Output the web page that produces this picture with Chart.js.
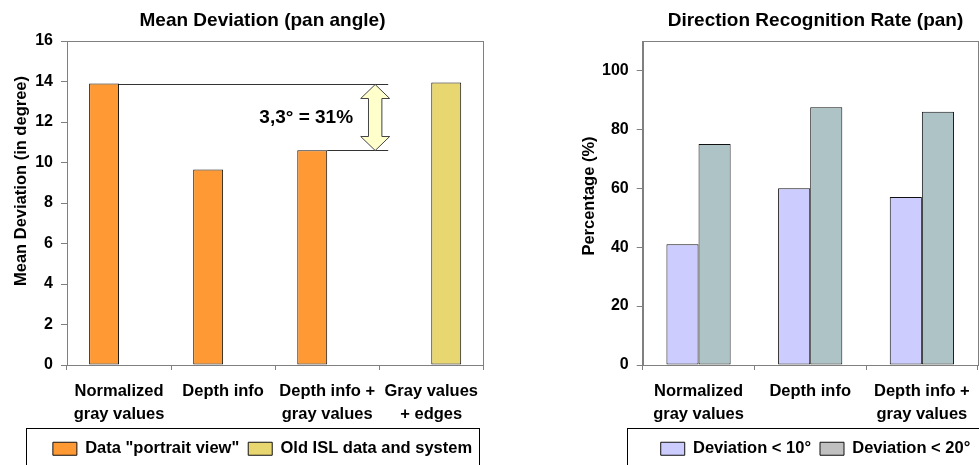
<!DOCTYPE html>
<html>
<head>
<meta charset="utf-8">
<script src="https://cdn.jsdelivr.net/npm/chart.js@4.4.1/dist/chart.umd.min.js"></script>
<style>
  html, body { margin: 0; padding: 0; background: #fff; width: 979px; height: 465px; overflow: hidden; }
  .panel { position: absolute; top: 0; height: 467px; }
  #panelDeviation { left: 0; width: 525px; }
  #panelRate { left: 525px; width: 581px; }
</style>
</head>
<body>
<div class="panel" id="panelDeviation"><canvas id="chartDeviation"></canvas></div>
<div class="panel" id="panelRate"><canvas id="chartRate"></canvas></div>
<script>
// ---- Mean deviation of the pan angle (degrees) ----
const deviationCategories = [['Normalized', 'gray values'], 'Depth info', ['Depth info +', 'gray values'], ['Gray values', '+ edges']];
const portraitView = [13.9, 9.65, 10.6, null];
const oldIslSystem = [null, null, null, 13.95];
const deviationTicks = [0, 2, 4, 6, 8, 10, 12, 14, 16];

// ---- Direction recognition rate (percent) ----
const rateCategories = [['Normalized', 'gray values'], 'Depth info', ['Depth info +', 'gray values']];
const within10 = [41, 60, 57];
const within20 = [75, 87.5, 86];
const rateTicks = [0, 20, 40, 60, 80, 100];

const FONT = '"Liberation Sans", Arial, sans-serif';
Chart.defaults.font.family = FONT;
Chart.defaults.font.weight = 'bold';
Chart.defaults.color = '#000';

const AXIS_GRAY = '#808080';
const BAR_EDGE = '#111';

// gray frame around the plotting area
const plotFrame = {
  id: 'plotFrame',
  beforeDatasetsDraw(chart) {
    const { ctx, chartArea: a } = chart;
    ctx.save();
    ctx.strokeStyle = AXIS_GRAY;
    ctx.lineWidth = 1;
    const l = Math.round(a.left) + 0.5, t = Math.round(a.top) + 0.5;
    const r = Math.round(a.right) + 0.5, b = Math.round(a.bottom) + 0.5;
    ctx.strokeRect(l, t, r - l, b - t);
    ctx.restore();
  }
};

// rotated title beside the value axis
const sideTitle = {
  id: 'sideTitle',
  afterDraw(chart, args, opts) {
    const ctx = chart.ctx;
    ctx.save();
    ctx.translate(opts.x, opts.y);
    ctx.rotate(-Math.PI / 2);
    ctx.font = 'bold 16.5px ' + FONT;
    ctx.fillStyle = '#000';
    ctx.textAlign = 'center';
    ctx.textBaseline = 'middle';
    ctx.fillText(opts.text, 0, 0);
    ctx.restore();
  }
};

// outline box around the legend
const legendFrame = {
  id: 'legendFrame',
  afterDraw(chart, args, opts) {
    const ctx = chart.ctx;
    ctx.save();
    ctx.strokeStyle = '#000';
    ctx.lineWidth = 1;
    ctx.strokeRect(opts.left + 0.5, opts.top + 0.5, opts.width, 60);
    ctx.restore();
  }
};

// gap between the first and third bar: guide lines, double arrow and label
const gapMarker = {
  id: 'gapMarker',
  afterDatasetsDraw(chart) {
    const ctx = chart.ctx;
    const y = chart.scales.y;
    const bars = chart.getDatasetMeta(0).data;
    const hi = portraitView[0], lo = portraitView[2];
    const yHi = Math.round(y.getPixelForValue(hi)) + 0.5;
    const yLo = Math.round(y.getPixelForValue(lo)) + 0.5;
    const right0 = bars[0].x + bars[0].width / 2;
    const right2 = bars[2].x + bars[2].width / 2;
    const xEnd = right2 + 61;
    const cx = right2 + 48;

    ctx.save();
    ctx.strokeStyle = '#333';
    ctx.lineWidth = 1;
    ctx.beginPath();
    ctx.moveTo(right0, yHi); ctx.lineTo(xEnd, yHi);
    ctx.moveTo(right2, yLo); ctx.lineTo(xEnd, yLo);
    ctx.stroke();

    const hw = 14.5, sw = 6.7, hl = 14;
    ctx.beginPath();
    ctx.moveTo(cx, yHi);
    ctx.lineTo(cx + hw, yHi + hl);
    ctx.lineTo(cx + sw, yHi + hl);
    ctx.lineTo(cx + sw, yLo - hl);
    ctx.lineTo(cx + hw, yLo - hl);
    ctx.lineTo(cx, yLo);
    ctx.lineTo(cx - hw, yLo - hl);
    ctx.lineTo(cx - sw, yLo - hl);
    ctx.lineTo(cx - sw, yHi + hl);
    ctx.lineTo(cx - hw, yHi + hl);
    ctx.closePath();
    ctx.fillStyle = '#FFFFCC';
    ctx.fill();
    ctx.strokeStyle = '#444';
    ctx.stroke();

    const diff = hi - lo;
    const label = diff.toFixed(1).replace('.', ',') + '° = ' + Math.round(diff / lo * 100) + '%';
    ctx.font = 'bold 19px ' + FONT;
    ctx.fillStyle = '#000';
    ctx.textAlign = 'center';
    ctx.textBaseline = 'middle';
    ctx.fillText(label, right2 - 21, (yHi + yLo) / 2);
    ctx.restore();
  }
};

function xAxis(height) {
  return {
    grid: { offset: true, drawOnChartArea: false, tickLength: 5, color: AXIS_GRAY },
    border: { color: AXIS_GRAY },
    ticks: { padding: 10, maxRotation: 0, minRotation: 0, autoSkip: false,
             font: { size: 16.5, weight: 'bold', lineHeight: 1.375 } },
    afterFit(s) { s.height = height; }
  };
}
function yAxis(max, tickValues, width) {
  return {
    min: 0, max: max,
    grid: { drawOnChartArea: false, tickLength: 6, color: AXIS_GRAY },
    border: { color: AXIS_GRAY },
    ticks: { padding: 8, font: { size: 16, weight: 'bold' } },
    afterBuildTicks(s) { s.ticks = tickValues.map(v => ({ value: v })); },
    afterFit(s) { s.width = width; }
  };
}
function spacer(width) {
  return {
    type: 'linear', axis: 'y', position: 'right', display: true,
    grid: { display: false }, ticks: { display: false }, border: { display: false },
    afterFit(s) { s.width = width; }
  };
}
function titleOpts(text) {
  return { display: true, text: text, color: '#000',
           font: { size: 19, weight: 'bold' }, padding: { top: 9, bottom: 9.2 } };
}
function legendOpts(extra) {
  return Object.assign({
    position: 'bottom',
    labels: { boxWidth: 24, boxHeight: 13, padding: 9, color: '#000',
              font: { size: 16.5, weight: 'bold' } }
  }, extra || {});
}

new Chart(document.getElementById('chartDeviation'), {
  type: 'bar',
  data: {
    labels: deviationCategories,
    datasets: [
      { label: 'Data "portrait view"', data: portraitView, yAxisID: 'y',
        backgroundColor: '#FF9933', borderColor: BAR_EDGE, borderWidth: 1, borderSkipped: false,
        categoryPercentage: 0.575, barPercentage: 1 },
      { label: 'Old ISL data and system', data: oldIslSystem, yAxisID: 'y',
        backgroundColor: '#E8D670', borderColor: BAR_EDGE, borderWidth: 1, borderSkipped: false,
        categoryPercentage: 0.575, barPercentage: 1 }
    ]
  },
  options: {
    responsive: true, maintainAspectRatio: false, devicePixelRatio: 1, animation: false,
    layout: { padding: 0 },
    scales: {
      x: xAxis(66.5),
      y: yAxis(16, deviationTicks, 67),
      pad: spacer(41.7)
    },
    plugins: {
      title: titleOpts('Mean Deviation (pan angle)'),
      legend: legendOpts(),
      tooltip: { enabled: false },
      sideTitle: { text: 'Mean Deviation (in degree)', x: 21, y: 181 },
      legendFrame: { left: 26, top: 428, width: 453 }
    }
  },
  plugins: [plotFrame, gapMarker, sideTitle, legendFrame]
});

// legend swatch colours for the recognition-rate series
const rateLegendColors = ['#CCCCFF', '#C0C0C0'];

new Chart(document.getElementById('chartRate'), {
  type: 'bar',
  data: {
    labels: rateCategories,
    datasets: [
      { label: 'Deviation < 10°', data: within10, yAxisID: 'y',
        backgroundColor: '#CCCCFF', borderColor: BAR_EDGE, borderWidth: 1, borderSkipped: false,
        categoryPercentage: 0.575, barPercentage: 1 },
      { label: 'Deviation < 20°', data: within20, yAxisID: 'y',
        backgroundColor: '#ADC3C5', borderColor: BAR_EDGE, borderWidth: 1, borderSkipped: false,
        categoryPercentage: 0.575, barPercentage: 1 }
    ]
  },
  options: {
    responsive: true, maintainAspectRatio: false, devicePixelRatio: 1, animation: false,
    layout: { padding: 0 },
    scales: {
      x: xAxis(66.5),
      y: yAxis(110, rateTicks, 117.7),
      pad: spacer(128.3)
    },
    plugins: {
      title: titleOpts('Direction Recognition Rate (pan)'),
      legend: legendOpts({
        labels: {
          boxWidth: 24, boxHeight: 13, padding: 9, color: '#000',
          font: { size: 16.5, weight: 'bold' },
          generateLabels(chart) {
            const items = Chart.defaults.plugins.legend.labels.generateLabels(chart);
            items.forEach((it, i) => { it.fillStyle = rateLegendColors[i]; });
            return items;
          }
        }
      }),
      tooltip: { enabled: false },
      sideTitle: { text: 'Percentage (%)', x: 64, y: 196 },
      legendFrame: { left: 102, top: 428, width: 420 }
    }
  },
  plugins: [plotFrame, sideTitle, legendFrame]
});
</script>
</body>
</html>
